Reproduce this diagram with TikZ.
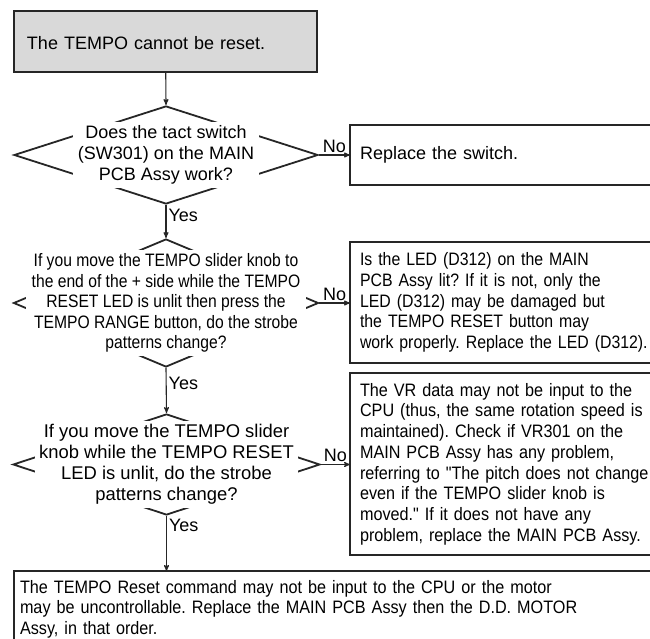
\documentclass[tikz,border=0pt]{standalone}
\usepackage{fontspec}
\setmainfont{Liberation Sans}
\newfontfamily\squeezeA{Liberation Sans}[FakeStretch=0.87]
\newfontfamily\squeezeB{Liberation Sans}[FakeStretch=0.88]
\newfontfamily\squeezeC{Liberation Sans}[FakeStretch=0.9]
\frenchspacing
\usetikzlibrary{
  arrows,
  shapes.geometric,
  positioning
}

\begin{document}
\begin{tikzpicture}[
      x=1pt,y=-1pt,
      font=\fontsize{18}{20.7}\selectfont\frenchspacing,
      >=stealth',
      problem/.style={
         rectangle,
         draw=black!85,
         line width=2.4pt,
         fill=black!15,
         anchor=north west,
         outer sep=0pt,
         align=left
      },
      remedy/.style={
         rectangle,
         draw=black!85,
         line width=2.4pt,
         fill=white,
         anchor=north west,
         outer sep=0pt,
         inner xsep=10pt,
         text width=310pt,
         align=left
      },
      decision/.style={
         diamond,
         draw=black!85,
         line width=1.8pt,
         inner sep=0pt
      },
      question/.style={
         fill=white,
         inner xsep=5pt,
         inner ysep=3.5pt,
         align=center
      },
      flow/.style={->,line width=1.1pt,draw=black!85},
      answer/.style={inner sep=2pt}
    ]
    \useasboundingbox (0,0) rectangle (650,639);
    \clip (0,0) rectangle (650,639);

    % start
    \node (start) [problem, inner xsep=13pt, text width=277pt, minimum height=61pt,
                   text height=17pt, text depth=0pt] at (14,11) {The TEMPO cannot be reset.};

    % questions
    \node (d1) [decision, minimum width=304pt, minimum height=98pt] at (166,155) {};
    \node (d1t) [question] at (d1.center) {Does the tact switch\\(SW301) on the MAIN\\PCB Assy work?};

    \node (d2) [decision, minimum width=305pt, minimum height=128pt] at (166,303) {};
    \node (d2t) [question, font=\squeezeA\fontsize{18}{20.5}\selectfont, inner xsep=6pt] at (d2.center)
       {If you move the TEMPO slider knob to\\the end of the + side while the TEMPO\\RESET LED is unlit then press the\\TEMPO RANGE button, do the strobe\\patterns change?};

    \node (d3) [decision, minimum width=307pt, minimum height=101pt] at (166.5,464.5) {};
    \node (d3t) [question, inner xsep=4pt, font=\fontsize{18.4}{21}\selectfont] at (d3.center)
       {If you move the TEMPO slider\\knob while the TEMPO RESET\\LED is unlit, do the strobe\\patterns change?};

    % remedies
    \node (r1) [remedy, minimum height=60pt] at (350,125) {Replace the switch.};
    \node (r2) [remedy, minimum height=121pt, font=\squeezeB\fontsize{18}{20.7}\selectfont] at (350,242)
       {Is the LED (D312) on the MAIN\\PCB Assy lit? If it is not, only the\\LED (D312) may be damaged but\\the TEMPO RESET button may\\work properly. Replace the LED (D312).};
    \node (r3) [remedy, minimum height=182pt, font=\squeezeC\fontsize{18}{20.7}\selectfont] at (350,373)
       {The VR data may not be input to the\\CPU (thus, the same rotation speed is\\maintained). Check if VR301 on the\\MAIN PCB Assy has any problem,\\referring to "The pitch does not change\\even if the TEMPO slider knob is\\moved." If it does not have any\\problem, replace the MAIN PCB Assy.};
    \node (r4) [remedy, inner xsep=6pt, inner ysep=9pt, text width=650pt,
                font=\squeezeC\fontsize{18}{20.7}\selectfont] at (14,571)
       {The TEMPO Reset command may not be input to the CPU or the motor\\may be uncontrollable. Replace the MAIN PCB Assy then the D.D. MOTOR\\Assy, in that order.};

    % connectors
    \draw[flow] (start) -- (d1.north);
    \draw[flow] (d1.south) -- node[answer, pos=0.32, right] {Yes} (d2.north);
    \draw[flow] (d2.south) -- node[answer, pos=0.35, right] {Yes} (d3.north);
    \draw[flow] (d3.south) -- node[answer, pos=0.18, right] {Yes} (d3.south |- r4.north);
    \draw[flow] (d1.east) -- node[answer, above] {No} (d1.east -| r1.west);
    \draw[flow] (d2.east) -- node[answer, above] {No} (d2.east -| r2.west);
    \draw[flow] (d3.east) -- node[answer, above] {No} (d3.east -| r3.west);
\end{tikzpicture}
\end{document}
